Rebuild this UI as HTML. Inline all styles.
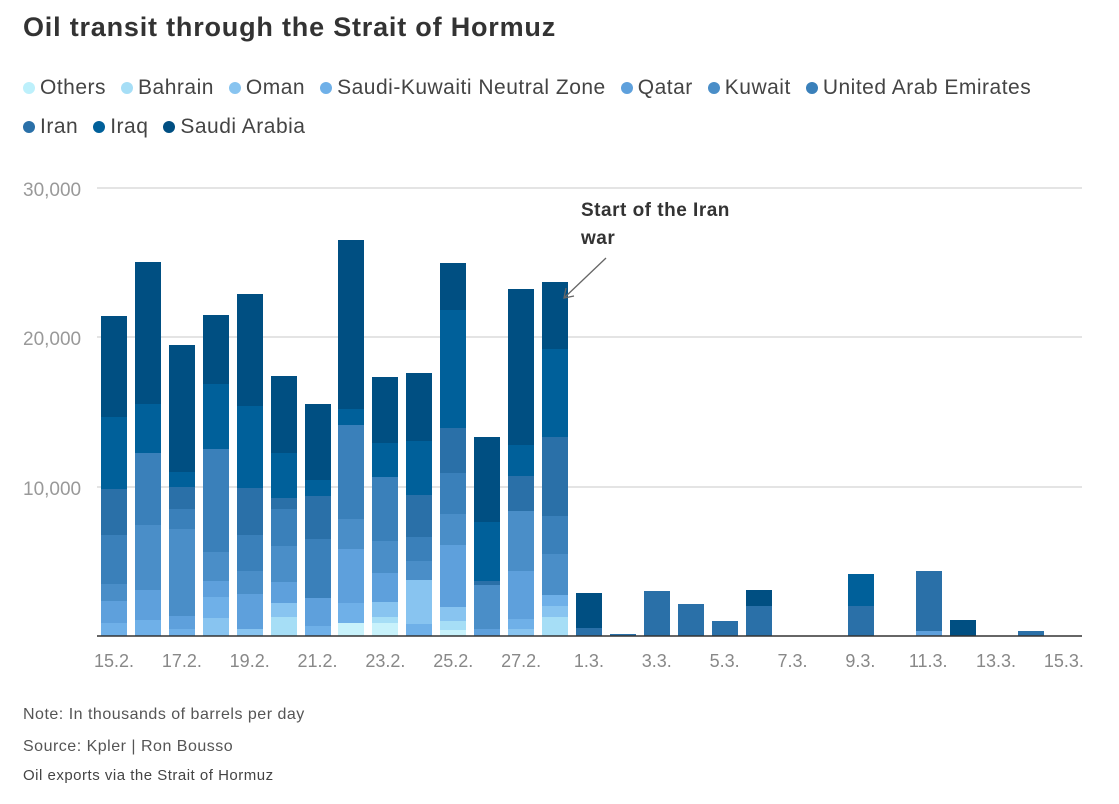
<!DOCTYPE html><html><head><style>
body{margin:0;background:#fff;font-family:"Liberation Sans",sans-serif;}
.w{position:relative;width:1119px;height:804px;overflow:hidden}
.t{position:absolute;left:23px;top:12px;font-size:27px;font-weight:bold;color:#333;letter-spacing:0.8px}
.lg{position:absolute;left:23px;font-size:21px;color:#444;white-space:nowrap;letter-spacing:0.5px}
.lg span{margin-right:15px}
.lg i{display:inline-block;width:12px;height:12px;border-radius:50%;margin-right:5px;vertical-align:0px}
.n{position:absolute;left:23px;font-size:16px;color:#555;letter-spacing:0.5px}
</style></head><body><div class="w">
<div class="t">Oil transit through the Strait of Hormuz</div>
<div class="lg" style="top:76px"><span><i style="background:#bdf0fb"></i>Others</span><span><i style="background:#a6def6"></i>Bahrain</span><span><i style="background:#88c4f0"></i>Oman</span><span><i style="background:#6fb0e8"></i>Saudi-Kuwaiti Neutral Zone</span><span><i style="background:#5ea0dc"></i>Qatar</span><span><i style="background:#4a8ec8"></i>Kuwait</span><span><i style="background:#3a80ba"></i>United Arab Emirates</span></div>
<div class="lg" style="top:115px"><span><i style="background:#2a70a8"></i>Iran</span><span><i style="background:#00609a"></i>Iraq</span><span><i style="background:#004f82"></i>Saudi Arabia</span></div>
<svg width="1119" height="804" style="position:absolute;left:0;top:0" id="s"></svg>
<div class="n" style="top:706px">Note: In thousands of barrels per day</div>
<div class="n" style="top:738px">Source: Kpler | Ron Bousso</div>
<div class="n" style="top:767px;font-size:15px;color:#444">Oil exports via the Strait of Hormuz</div>
</div>
<script>
const C=["#004f82","#00609a","#2a70a8","#3a80ba","#4a8ec8","#5ea0dc","#6fb0e8","#88c4f0","#a6def6","#c8f2fb"];
const B=[
[101,[316,417,489,535,584,601,623,636],[0,1,2,3,4,5,6]],
[135,[262,404,453,525,590,620,636],[0,1,3,4,5,6]],
[169,[345,472,487,509,529,616,629,636],[0,1,2,3,4,5,6]],
[203,[315,384,449,552,581,597,618,636],[0,1,3,4,5,6,7]],
[237,[294,406,488,535,571,594,629,636],[0,1,2,3,4,5,7]],
[271,[376,453,498,509,546,582,603,617,636],[0,1,2,3,4,5,7,8]],
[305,[404,480,496,539,598,626,636],[0,1,2,3,5,6]],
[338,[240,409,425,519,549,603,623,636],[0,1,3,4,5,6,9]],
[372,[377,443,477,541,573,602,617,623,636],[0,1,3,4,5,7,8,9]],
[406,[373,441,495,537,561,580,624,636],[0,1,2,3,4,7,6]],
[440,[263,310,428,473,514,545,607,621,630,636],[0,1,2,3,4,5,7,8,9]],
[474,[437,522,581,585,629,636],[0,1,2,4,5]],
[508,[289,445,476,511,571,619,629,636],[0,1,2,4,5,6,7]],
[542,[282,349,437,516,554,595,606,617,636],[0,1,2,3,4,6,7,8]],
[576,[593,628,636],[0,2]],
[610,[634,636],[2]],
[644,[591,636],[2]],
[678,[604,636],[2]],
[712,[621,636],[2]],
[746,[590,606,636],[0,2]],
[848,[574,606,636],[1,2]],
[916,[571,631,636],[2,5]],
[950,[620,636],[0]],
[1018,[631,636],[2]]];
let h='';
[[188,'30,000'],[337,'20,000'],[487,'10,000']].forEach(([y,l])=>{h+=`<line x1="97" x2="1082" y1="${y}" y2="${y}" stroke="#c8c8c8"/><text x="23" y="${y+8}" font-size="19" fill="#999" font-family="Liberation Sans">${l}</text>`});
B.forEach(([x,ys,cs])=>{for(let i=0;i<cs.length;i++)h+=`<rect x="${x}" y="${ys[i]}" width="26" height="${ys[i+1]-ys[i]}" fill="${C[cs[i]]}"/>`});
h+=`<line x1="97" x2="1082" y1="636" y2="636" stroke="#333" stroke-width="1.5"/>`;
const L=["15.2.","17.2.","19.2.","21.2.","23.2.","25.2.","27.2.","1.3.","3.3.","5.3.","7.3.","9.3.","11.3.","13.3.","15.3."];
L.forEach((l,i)=>{h+=`<text x="${114+i*67.85}" y="667" font-size="18" fill="#888" text-anchor="middle" font-family="Liberation Sans">${l}</text>`});
h+=`<text x="581" y="216" font-size="19" font-weight="bold" fill="#333" font-family="Liberation Sans" letter-spacing="0.5">Start of the Iran</text><text x="581" y="244" font-size="19" font-weight="bold" fill="#333" font-family="Liberation Sans" letter-spacing="0.5">war</text>`;
h+=`<line x1="606" y1="258" x2="564" y2="298" stroke="#666" stroke-width="1.3"/><polyline points="566,288 564,298 574,296" fill="none" stroke="#666" stroke-width="1.3"/>`;
document.getElementById('s').innerHTML=h;
</script></body></html>
